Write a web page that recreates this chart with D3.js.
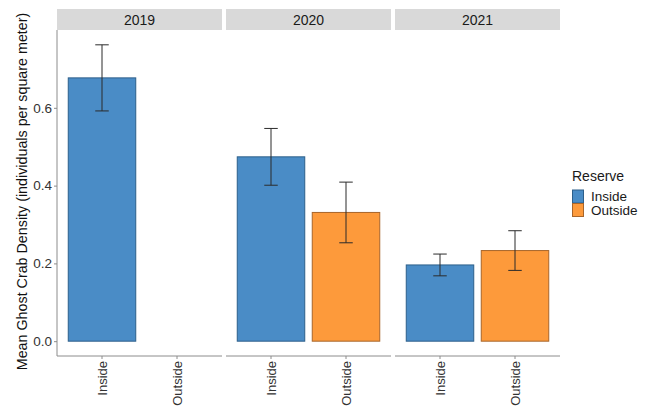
<!DOCTYPE html>
<html>
<head>
<meta charset="utf-8">
<script src="https://cdn.jsdelivr.net/npm/d3@7"></script>
<style>
  body { margin: 0; background: #fff; }
  svg { display: block; font-family: "Liberation Sans", Arial, sans-serif; }
</style>
</head>
<body>
<svg id="chart" width="650" height="411"></svg>
<script>
// Mean ghost crab density by year and reserve status, with standard errors
const years = ["2019", "2020", "2021"];
const reserves = ["Inside", "Outside"];
const yearCol = ["2019", "2020", "2020", "2021", "2021"];
const reserveCol = ["Inside", "Inside", "Outside", "Inside", "Outside"];
const meanDensity = [0.677, 0.474, 0.331, 0.196, 0.233];
const seDensity = [0.085, 0.073, 0.078, 0.028, 0.051];
const yTicks = [0.0, 0.2, 0.4, 0.6];

const data = meanDensity.map((m, i) => ({
  year: yearCol[i], reserve: reserveCol[i], mean: m, se: seDensity[i]
}));

const colors = d3.scaleOrdinal().domain(reserves).range(["#4a8cc6", "#fd9a3b"]);
const outline = { Inside: "#2d5f8a", Outside: "#a8652a" };

const svg = d3.select("#chart");
const stripTop = 9, stripH = 21;
const panelTop = stripTop + stripH, panelBottom = 356;

const facet = d3.scaleBand().domain(years).range([57, 560]).paddingInner(4 / 169);
const x = d3.scaleBand().domain(reserves).range([0, facet.bandwidth()])
  .paddingInner(0.1).paddingOuter(0.15);
const maxVal = d3.max(data, d => d.mean + d.se);
const y = d3.scaleLinear()
  .domain([-0.05 * maxVal, maxVal * 1.05])
  .range([panelBottom, panelTop]);

// Y axis (first panel only)
const yAxis = svg.append("g")
  .attr("transform", `translate(${facet(years[0])},0)`)
  .call(d3.axisLeft(y).tickValues(yTicks).tickFormat(d3.format(".1f")).tickSize(3).tickPadding(2));
yAxis.select(".domain").attr("d", `M0,${panelTop}V${panelBottom}`).attr("stroke", "#8c8c8c");
yAxis.selectAll(".tick line").attr("stroke", "#8c8c8c");
yAxis.selectAll(".tick text").attr("fill", "#333").style("font-size", "13.5px");

svg.append("text")
  .attr("transform", `translate(22,${(stripTop + panelBottom) / 2 + 9}) rotate(-90)`)
  .attr("text-anchor", "middle")
  .attr("dy", "0.35em")
  .attr("fill", "#111")
  .style("font-size", "14.3px")
  .text("Mean Ghost Crab Density (individuals per square meter)");

years.forEach(yr => {
  const g = svg.append("g").attr("transform", `translate(${facet(yr)},0)`);
  const w = facet.bandwidth();

  // strip
  g.append("rect").attr("x", 0).attr("y", stripTop).attr("width", w).attr("height", stripH)
    .attr("fill", "#d9d9d9");
  g.append("text").attr("x", w / 2).attr("y", stripTop + stripH / 2).attr("dy", "0.36em")
    .attr("text-anchor", "middle").attr("fill", "#1a1a1a").style("font-size", "14px").text(yr);

  // x axis
  const xAxis = g.append("g").attr("transform", `translate(0,${panelBottom})`)
    .call(d3.axisBottom(x).tickSize(3).tickPadding(2));
  xAxis.select(".domain").attr("d", `M0,0H${w}`).attr("stroke", "#8c8c8c");
  xAxis.selectAll(".tick line").attr("stroke", "#8c8c8c");
  xAxis.selectAll(".tick text")
    .attr("transform", "rotate(-90)")
    .attr("text-anchor", "end")
    .attr("x", -5).attr("y", 0).attr("dy", "0.35em")
    .attr("fill", "#333").style("font-size", "13px");

  const rows = data.filter(d => d.year === yr);
  g.selectAll("rect.bar").data(rows).join("rect").attr("class", "bar")
    .attr("x", d => x(d.reserve))
    .attr("width", x.bandwidth())
    .attr("y", d => y(d.mean))
    .attr("height", d => y(0) - y(d.mean))
    .attr("fill", d => colors(d.reserve))
    .attr("stroke", d => outline[d.reserve])
    .attr("stroke-width", 1);

  const cap = x.step() * 0.18;
  const eb = g.selectAll("g.err").data(rows).join("g").attr("class", "err")
    .attr("stroke", "#2b2b2b").attr("stroke-width", 1).attr("fill", "none");
  eb.append("path").attr("d", d => {
    const cx = x(d.reserve) + x.bandwidth() / 2;
    const y1 = y(d.mean + d.se), y0 = y(d.mean - d.se);
    return `M${cx},${y1}V${y0}M${cx - cap / 2},${y1}H${cx + cap / 2}M${cx - cap / 2},${y0}H${cx + cap / 2}`;
  });
});

// legend
const lg = svg.append("g").attr("transform", "translate(572,0)");
lg.append("text").attr("x", 0).attr("y", 181).attr("fill", "#1a1a1a").style("font-size", "14px").text("Reserve");
reserves.forEach((r, i) => {
  const ky = 190 + i * 13.5;
  lg.append("rect").attr("x", 0.5).attr("y", ky).attr("width", 11).attr("height", 13)
    .attr("fill", colors(r)).attr("stroke", outline[r]).attr("stroke-width", 1);
  lg.append("text").attr("x", 19).attr("y", ky + 6.5).attr("dy", "0.35em")
    .attr("fill", "#1a1a1a").style("font-size", "13.5px").text(r);
});
</script>
</body>
</html>
